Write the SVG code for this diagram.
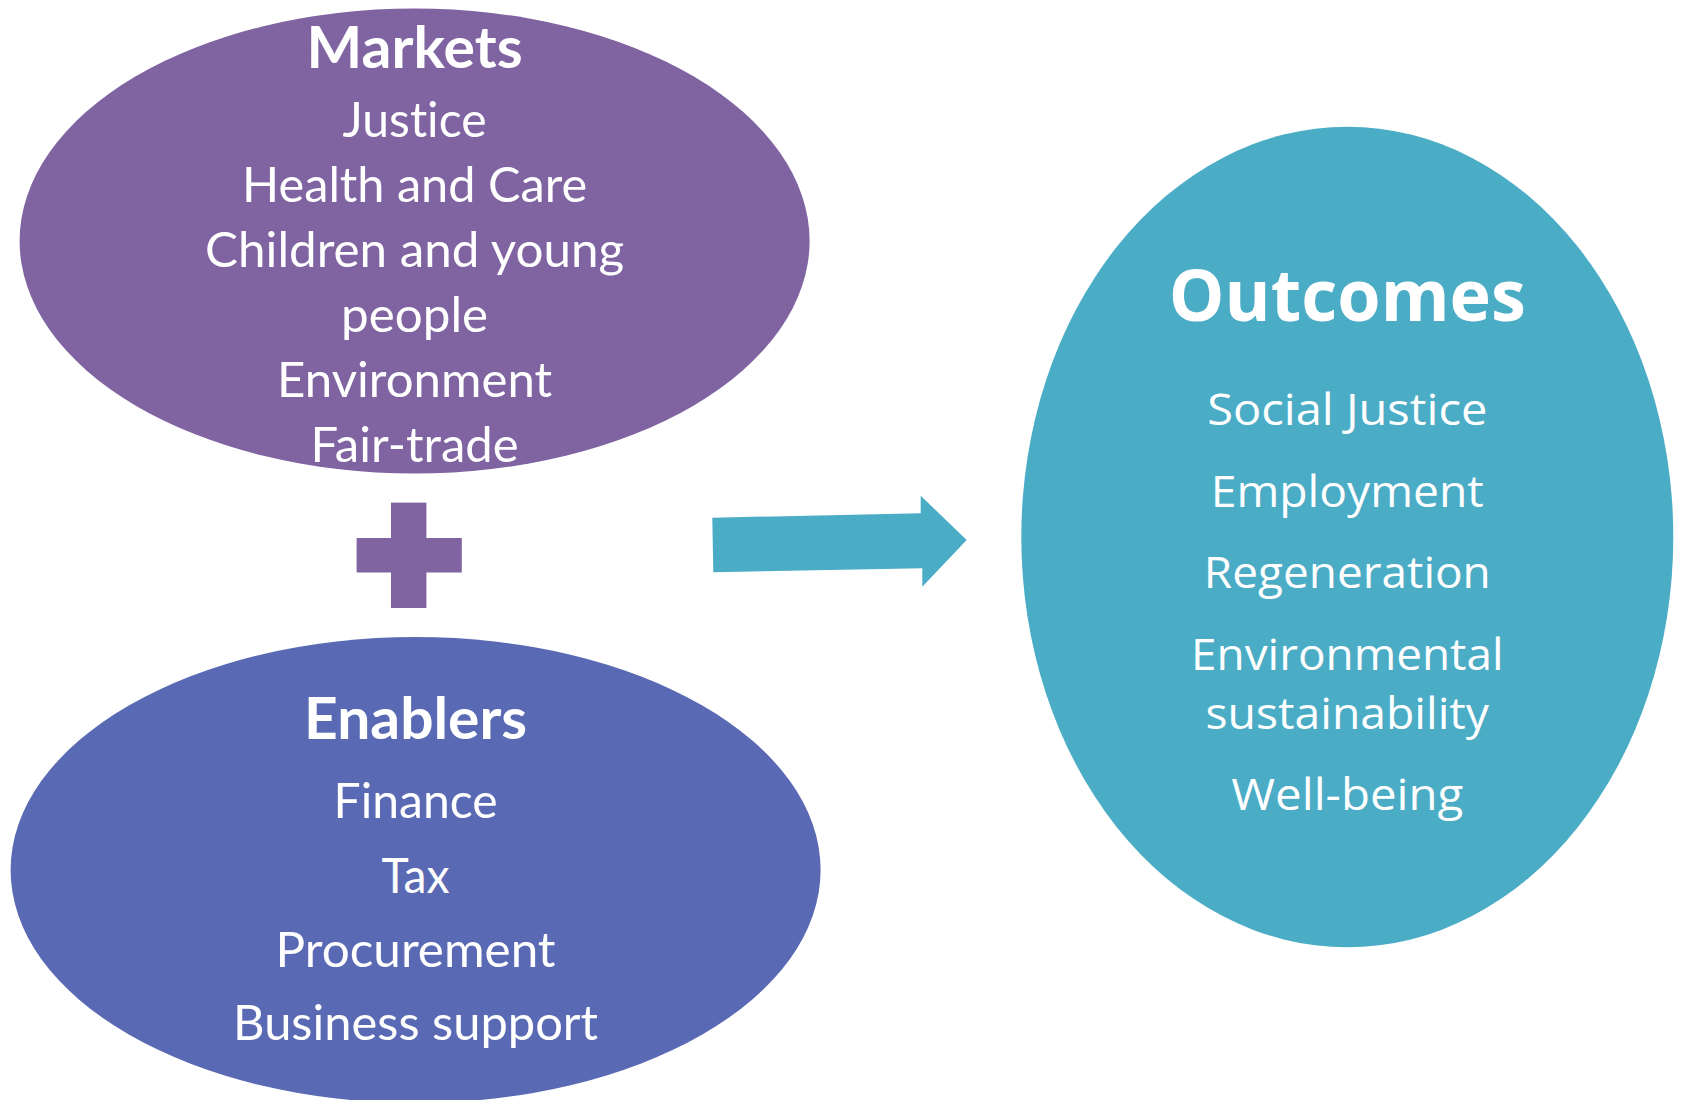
<svg xmlns="http://www.w3.org/2000/svg" width="1684" height="1100" viewBox="0 0 1684 1100">
<style>
.t{fill:#fff;text-anchor:middle;font-family:Lato,"Noto Sans",sans-serif;font-size:48px;font-variant-ligatures:none;font-feature-settings:"liga" 0,"clig" 0}
.h{font-weight:bold;font-size:58px}
.o{fill:#fff;text-anchor:middle;font-family:"Open Sans","Noto Sans",sans-serif;font-size:44px;font-variant-ligatures:none}
.oh{font-weight:bold;font-size:72px}
</style>
<rect width="1684" height="1100" fill="#fff"/>
<g id="markets">
<ellipse cx="414.6" cy="241" rx="395" ry="232.5" fill="#8064A2"/>
<text class="t h" x="414.6" y="67.5" textLength="216" lengthAdjust="spacingAndGlyphs">Markets</text>
<text class="t" x="414.6" y="136.5" textLength="144" lengthAdjust="spacingAndGlyphs">Justice</text>
<text class="t" x="414.6" y="201.5" textLength="345" lengthAdjust="spacingAndGlyphs">Health and Care</text>
<text class="t" x="414.6" y="266.5" textLength="419" lengthAdjust="spacingAndGlyphs">Children and young</text>
<text class="t" x="414.6" y="331.5" textLength="147" lengthAdjust="spacingAndGlyphs">people</text>
<text class="t" x="414.6" y="396.5" textLength="275" lengthAdjust="spacingAndGlyphs">Environment</text>
<text class="t" x="414.6" y="461.5" textLength="208" lengthAdjust="spacingAndGlyphs">Fair-trade</text>
</g>
<g id="plus">
<rect x="391" y="502.6" width="35.4" height="105.4" fill="#8064A2"/>
<rect x="356.6" y="538" width="105.2" height="34.5" fill="#8064A2"/>
</g>
<g id="enablers">
<ellipse cx="415.6" cy="870" rx="405" ry="233" fill="#5A69B3"/>
<text class="t h" x="415.6" y="739" textLength="223" lengthAdjust="spacingAndGlyphs">Enablers</text>
<text class="t" x="415.6" y="818" textLength="164" lengthAdjust="spacingAndGlyphs">Finance</text>
<text class="t" x="415.6" y="892.5" textLength="68" lengthAdjust="spacingAndGlyphs">Tax</text>
<text class="t" x="415.6" y="966.5" textLength="280" lengthAdjust="spacingAndGlyphs">Procurement</text>
<text class="t" x="415.6" y="1039.5" textLength="365" lengthAdjust="spacingAndGlyphs">Business support</text>
</g>
<g id="connectors">
<polygon points="712.3,517.7 920.7,513.3 920.7,495.7 966.7,540 922.3,586.7 922.3,568.3 713.3,572.3" fill="#4BACC6"/>
</g>
<g id="outcomes">
<ellipse cx="1347.3" cy="537" rx="326" ry="410.3" fill="#4BACC6"/>
<text class="o oh" x="1347.3" y="321" textLength="357" lengthAdjust="spacingAndGlyphs">Outcomes</text>
<text class="o" x="1347.3" y="425" textLength="280" lengthAdjust="spacingAndGlyphs">Social Justice</text>
<text class="o" x="1347.3" y="506.5" textLength="273" lengthAdjust="spacingAndGlyphs">Employment</text>
<text class="o" x="1347.3" y="588" textLength="287" lengthAdjust="spacingAndGlyphs">Regeneration</text>
<text class="o" x="1347.3" y="669.5" textLength="312.5" lengthAdjust="spacingAndGlyphs">Environmental</text>
<text class="o" x="1347.3" y="728.5" textLength="283.5" lengthAdjust="spacingAndGlyphs">sustainability</text>
<text class="o" x="1347.3" y="810" textLength="232" lengthAdjust="spacingAndGlyphs">Well-being</text>
</g>
</svg>
